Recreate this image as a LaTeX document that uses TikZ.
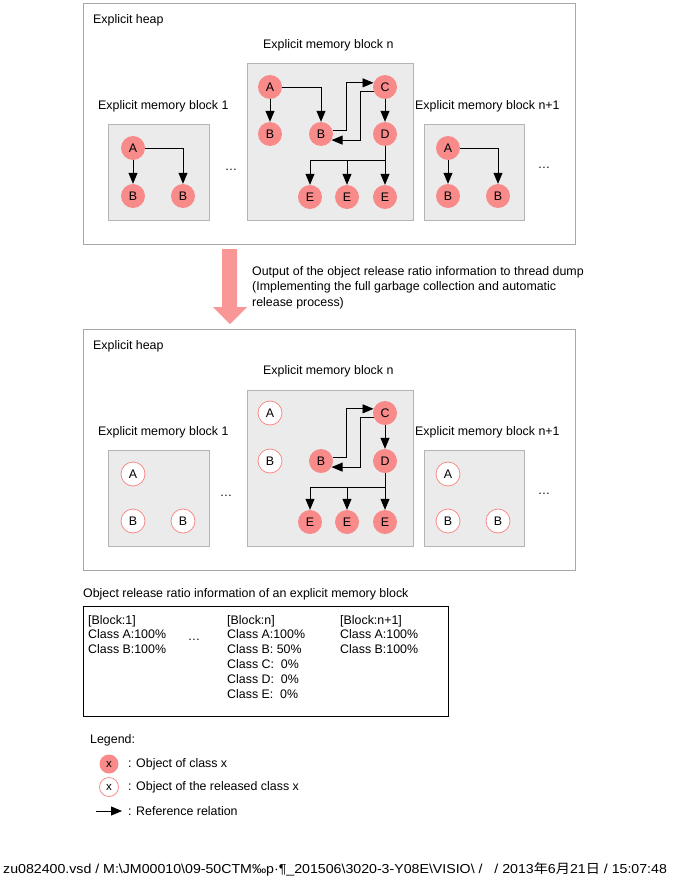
\documentclass[tikz,border=0pt]{standalone}
\usepackage{fontspec}
\setmainfont{Liberation Sans}
\newfontfamily\cjk{Noto Sans CJK JP}
\usetikzlibrary{arrows.meta,calc}
\definecolor{objfill}{HTML}{F88A8A}
\definecolor{bigarrow}{HTML}{F99696}
\definecolor{blkfill}{HTML}{EBEBEB}
\definecolor{blkdraw}{HTML}{B4B4B4}
\definecolor{heapdraw}{HTML}{A8A8A8}
\tikzset{
  obj/.style={circle,minimum size=24pt,inner sep=0pt,fill=objfill,font=\fontsize{12.4}{14}\selectfont},
  relobj/.style={obj,fill=white,draw=objfill,line width=0.8pt},
  lobj/.style={obj,minimum size=19pt,font=\fontsize{11.5}{13}\selectfont},
  lrel/.style={lobj,fill=white,draw=objfill,line width=0.8pt},
  ref/.style={-{Triangle[length=11pt,width=9pt]},line width=0.8pt},
  blk/.style={fill=blkfill,draw=blkdraw,line width=0.8pt},
  heap/.style={draw=heapdraw,line width=0.8pt},
  lbl/.style={inner sep=0pt,anchor=west},
  dots/.style={inner sep=0pt}
}
\begin{document}
\begin{tikzpicture}[x=1pt,y=-1pt,font=\fontsize{12.4}{14.8}\selectfont]
\useasboundingbox (0,0) rectangle (677,881);
% ===== top heap =====
\draw[heap] (83,3) rectangle (575,244);
\node[lbl] (th) at (93,20) {Explicit heap};
\node[lbl] (tnl) at (263,45) {Explicit memory block n};
\node[lbl] (t1l) at (98,106) {Explicit memory block 1};
\node[lbl] (tn1l) at (415,106) {Explicit memory block n+1};
\draw[blk] (108,124) rectangle (209,220);
\draw[blk] (247,63) rectangle (413,220);
\draw[blk] (424,124) rectangle (524,220);
\node[dots] (td1) at (231,170) {…};
\node[dots] (td2) at (544,168) {…};
% block 1
\node[obj] (t1A) at (133,148) {A};
\node[obj] (t1B) at (133,196) {B};
\node[obj] (t1Bb) at (183,196) {B};
\draw[ref] (t1A) -- (t1B);
\draw[ref] (t1A) -| (t1Bb);
% block n+1
\node[obj] (t3A) at (448,148) {A};
\node[obj] (t3B) at (448,196) {B};
\node[obj] (t3Bb) at (498,196) {B};
\draw[ref] (t3A) -- (t3B);
\draw[ref] (t3A) -| (t3Bb);
% block n
\node[obj] (tA) at (270,87) {A};
\node[obj] (tB) at (270,134) {B};
\node[obj] (tBb) at (321,134) {B};
\node[obj] (tC) at (385,87) {C};
\node[obj] (tD) at (385,134) {D};
\node[obj] (tE1) at (310,197) {E};
\node[obj] (tE2) at (347,197) {E};
\node[obj] (tE3) at (385,197) {E};
\draw[ref] (tA) -- (tB);
\draw[ref] (tA) -| (tBb);
\draw[ref] (tC) -- (tD);
\draw[ref] (tBb.15) -- ++(14,0) |- (tC.160);
\draw[ref] (tC.200) -- ++(-13,0) |- (tBb.330);
\draw[ref] (tD) -- (tE3);
\draw[line width=0.8pt] (tD.south) -- ++(0,14) coordinate (tJ);
\draw[ref] (tJ) -| (tE1);
\draw[ref] (tJ) -| (tE2);
% ===== big arrow =====
\fill[bigarrow] (222,249) -- (237,249) -- (237,307) -- (247,307) -- (230,324) -- (213,307) -- (222,307) -- cycle;
\node[lbl,anchor=north west,align=left,font=\fontsize{12.4}{15.5}\selectfont] (out) at (252,266) {Output of the object release ratio information to thread dump\\(Implementing the full garbage collection and automatic\\release process)};
% ===== bottom heap =====
\draw[heap] (83,329) rectangle (575,570);
\node[lbl] (bh) at (93,346) {Explicit heap};
\node[lbl] (bnl) at (263,371) {Explicit memory block n};
\node[lbl] (b1l) at (98,432) {Explicit memory block 1};
\node[lbl] (bn1l) at (415,432) {Explicit memory block n+1};
\draw[blk] (108,450) rectangle (209,546);
\draw[blk] (247,390) rectangle (413,546);
\draw[blk] (424,450) rectangle (524,546);
\node[dots] (bd1) at (226,496) {…};
\node[dots] (bd2) at (544,494) {…};
\node[relobj] (b1A) at (133,474) {A};
\node[relobj] (b1B) at (133,521) {B};
\node[relobj] (b1Bb) at (183,521) {B};
\node[relobj] (b3A) at (448,474) {A};
\node[relobj] (b3B) at (448,521) {B};
\node[relobj] (b3Bb) at (498,521) {B};
\node[relobj] (bA) at (270,413) {A};
\node[relobj] (bB) at (270,461) {B};
\node[obj] (bBb) at (321,461) {B};
\node[obj] (bC) at (385,413) {C};
\node[obj] (bD) at (385,461) {D};
\node[obj] (bE1) at (310,522) {E};
\node[obj] (bE2) at (347,522) {E};
\node[obj] (bE3) at (385,522) {E};
\draw[ref] (bC) -- (bD);
\draw[ref] (bBb.15) -- ++(14,0) |- (bC.160);
\draw[ref] (bC.200) -- ++(-13,0) |- (bBb.330);
\draw[ref] (bD) -- (bE3);
\draw[line width=0.8pt] (bD.south) -- ++(0,14) coordinate (bJ);
\draw[ref] (bJ) -| (bE1);
\draw[ref] (bJ) -| (bE2);
% ===== ratio info =====
\node[lbl] (rt) at (83,594) {Object release ratio information of an explicit memory block};
\draw[line width=0.9pt] (83,606) rectangle (448,716);
\node[lbl,anchor=north west,align=left] (c1) at (88,615) {[Block:1]\\Class A:100\%\\Class B:100\%};
\node[dots] (cd) at (194,640) {…};
\node[lbl,anchor=north west,align=left] (c2) at (227,615) {[Block:n]\\Class A:100\%\\Class B: 50\%\\Class C:\ \ 0\%\\Class D:\ \ 0\%\\Class E:\ \ 0\%};
\node[lbl,anchor=north west,align=left] (c3) at (340,615) {[Block:n+1]\\Class A:100\%\\Class B:100\%};
% ===== legend =====
\node[lbl] (lg) at (90,740) {Legend:};
\node[lobj] (lo) at (109,764) {x};
\node[lbl] (lot) at (128,764) {: Object of class x};
\node[lrel] (lr) at (109,787) {x};
\node[lbl] (lrt) at (128,787) {: Object of the released class x};
\coordinate (la0) at (96,811);
\coordinate (la1) at (122,811);
\draw[ref] (la0) -- (la1);
\node[lbl] (lat) at (128,811) {: Reference relation};
% ===== footer =====
\node[lbl,font=\fontsize{13}{15}\selectfont] (ft) at (3,869) {\scalebox{1.09}[1]{zu082400.vsd / M:\textbackslash JM00010\textbackslash 09-50CTM‰p·¶\_201506\textbackslash 3020-3-Y08E\textbackslash VISIO\textbackslash\ /\ \ \ / 2013{\cjk 年}6{\cjk 月}21{\cjk 日} / 15:07:48}};
\end{tikzpicture}
\end{document}
